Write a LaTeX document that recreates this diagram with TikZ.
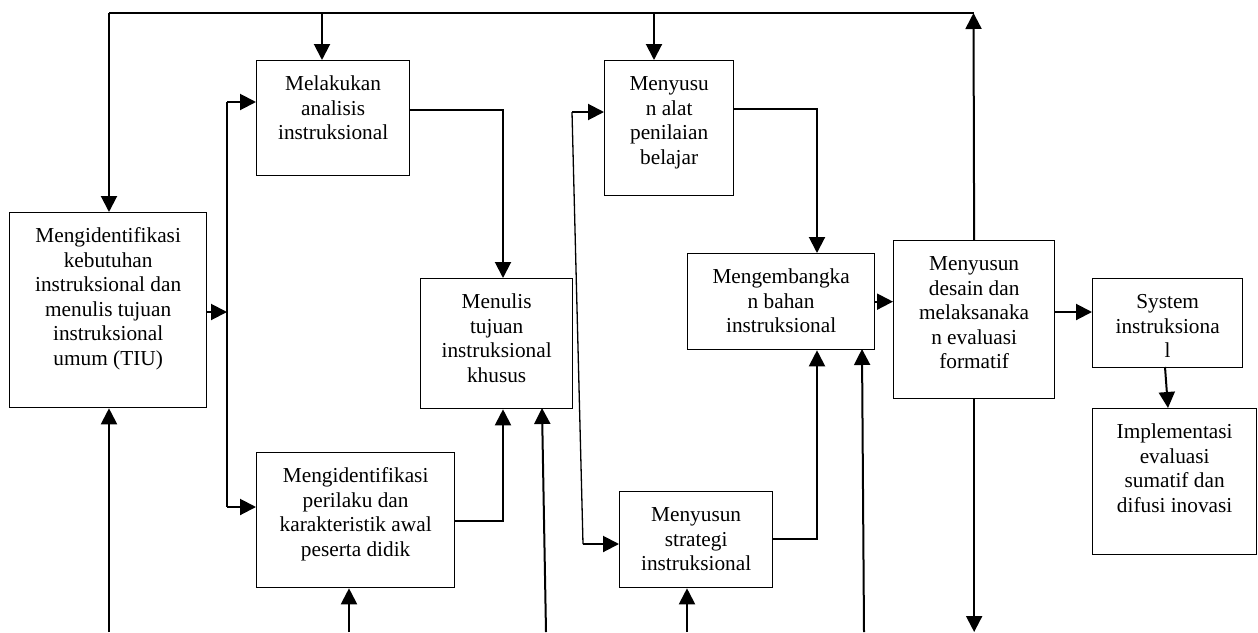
\documentclass[tikz,border=0pt]{standalone}
\usepackage{fontspec}
\setmainfont{Liberation Serif}
\usetikzlibrary{arrows.meta}
\newcommand{\boxtext}[3]{\parbox[t][#2pt][t]{#1pt}{\fontsize{21.3}{24.5}\selectfont\centering\rule{0pt}{30pt}#3}}
\tikzset{
  stepbox/.style={draw, line width=1.3pt, inner sep=0pt, anchor=north west},
  conn/.style={line width=2pt},
  thinl/.style={line width=1.3pt},
  arr/.style={-{Triangle[length=16pt,width=16pt]}}
}
\begin{document}
\begin{tikzpicture}[x=1pt,y=-1pt]
\useasboundingbox (0,0) rectangle (1258,632);
% boxes
\node[stepbox] (b1) at (9,212) {\boxtext{197}{195}{Mengidentifikasi\\kebutuhan\\instruksional dan\\menulis tujuan\\instruksional\\umum (TIU)}};
\node[stepbox] (b2) at (256,60) {\boxtext{153}{115}{Melakukan\\analisis\\instruksional}};
\node[stepbox] (b3) at (420,278) {\boxtext{152}{130}{Menulis\\tujuan\\instruksional\\khusus}};
\node[stepbox] (b4) at (604,60) {\boxtext{129}{135}{Menyusu\\n alat\\penilaian\\belajar}};
\node[stepbox] (b5) at (687,253) {\boxtext{187}{96}{Mengembangka\\n bahan\\instruksional}};
\node[stepbox] (b6) at (893,240) {\boxtext{161}{158}{Menyusun\\desain dan\\melaksanaka\\n evaluasi\\formatif}};
\node[stepbox] (b7) at (1092,278) {\boxtext{150}{89}{System\\instruksiona\\l}};
\node[stepbox] (b8) at (1092,408) {\boxtext{164}{146}{Implementasi\\evaluasi\\sumatif dan\\difusi inovasi}};
\node[stepbox] (b9) at (256,452) {\boxtext{198}{135}{Mengidentifikasi\\perilaku dan\\karakteristik awal\\peserta didik}};
\node[stepbox] (b10) at (619,491) {\boxtext{153}{96}{Menyusun\\strategi\\instruksional}};
% coordinates
\coordinate (tA) at (109,13);
\coordinate (tB) at (322,13);
\coordinate (tC) at (654,13);
\coordinate (tD) at (973.5,13);
\coordinate (busT) at (227,102);
\coordinate (busM) at (227,312);
\coordinate (busB) at (227,507);
\coordinate (j1) at (503,110);
\coordinate (j2) at (503,521);
\coordinate (s1) at (572,112);
\coordinate (s2) at (583,544);
\coordinate (k1) at (817,109);
\coordinate (k2) at (817,539);
\coordinate (m2) at (1054,312);
\coordinate (p1) at (1165,367);
\coordinate (p2) at (1168,408);
\coordinate (e3) at (542,408);
\coordinate (e5) at (862,349);
\coordinate (bot) at (0,632);
\coordinate (u1) at (109,632);
\coordinate (u2) at (349,632);
\coordinate (u3) at (546,632);
\coordinate (u4) at (687,632);
\coordinate (u5) at (864,632);
% top feedback line
\draw[thinl] (tA) -- (tD);
\draw[conn,arr] (b6.north) -- (tD);
\draw[conn,arr] (tA) -- (tA |- b1.north);
\draw[conn,arr] (tB) -- (tB |- b2.north);
\draw[conn,arr] (tC) -- (tC |- b4.north);
% left bus
\draw[conn,arr] (b1.east |- busM) -- (busM);
\draw[thinl] (busT) -- (busB);
\draw[conn,arr] (busT) -- (busT -| b2.west);
\draw[conn,arr] (busB) -- (busB -| b9.west);
% to khusus
\draw[conn,arr] (b2.east |- j1) -- (j1) -- (j1 |- b3.north);
\draw[conn,arr] (b9.east |- j2) -- (j2) -- (j2 |- b3.south);
\draw[conn,arr] (u3) -- (e3);
% slanted bus
\draw[thinl] (s1) -- (s2);
\draw[conn,arr] (s1) -- (s1 -| b4.west);
\draw[conn,arr] (s2) -- (s2 -| b10.west);
% to bahan
\draw[conn,arr] (b4.east |- k1) -- (k1) -- (k1 |- b5.north);
\draw[conn,arr] (b10.east |- k2) -- (k2) -- (k2 |- b5.south);
\draw[conn,arr] (u5) -- (e5);
% right chain
\draw[conn,arr] (b5.east) -- (b5.east -| b6.west);
\draw[conn,arr] (m2) -- (m2 -| b7.west);
\draw[conn,arr] (p1) -- (p2);
\draw[conn,arr] (b6.south) -- (b6.south |- bot);
% bottom inputs
\draw[conn,arr] (u1) -- (u1 |- b1.south);
\draw[conn,arr] (u2) -- (u2 |- b9.south);
\draw[conn,arr] (u4) -- (u4 |- b10.south);
\end{tikzpicture}
\end{document}
